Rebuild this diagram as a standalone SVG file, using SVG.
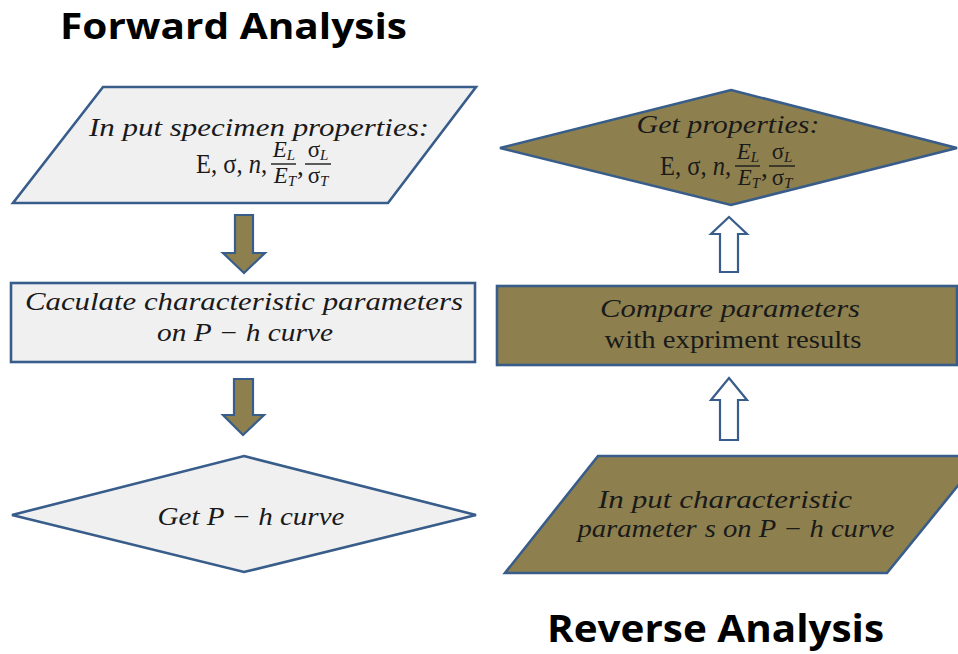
<svg xmlns="http://www.w3.org/2000/svg" width="958" height="654" viewBox="0 0 958 654">
<style>
.light{fill:#f0f0f1;stroke:#385d8a;stroke-width:2.6}
.olive{fill:#8d804e;stroke:#385d8a;stroke-width:2.6}
.arr-f{fill:#8d804e;stroke:#385d8a;stroke-width:2.2;stroke-linejoin:miter}
.arr-h{fill:#ffffff;stroke:#385d8a;stroke-width:2.2;stroke-linejoin:miter}
.title{font-family:"Open Sans","Liberation Sans",sans-serif;font-weight:bold;fill:#000}
.it{font-family:"Liberation Serif","DejaVu Serif",serif;font-style:italic;font-size:25px;fill:#1a1a1a}
.rm{font-family:"Liberation Serif","DejaVu Serif",serif;font-style:normal;font-size:25px;fill:#1a1a1a}
.m{font-family:"Liberation Serif","DejaVu Serif",serif;font-size:27px;fill:#1a1a1a}
.mf{font-family:"Liberation Serif","DejaVu Serif",serif;font-size:23px;fill:#1a1a1a}
.i{font-style:italic}
.bar{stroke:#1a1a1a;stroke-width:1.4}
</style>
<defs>
<g id="formula">
<text class="m" x="0" y="0" textLength="71" lengthAdjust="spacingAndGlyphs"><tspan>E</tspan><tspan>, σ, </tspan><tspan class="i">n</tspan><tspan>,</tspan></text>
<text class="mf" x="88" y="-16" text-anchor="middle"><tspan class="i">E</tspan><tspan class="i" font-size="15" dy="3">L</tspan></text>
<line class="bar" x1="75" y1="-9" x2="100" y2="-9"/>
<text class="mf" x="89" y="10" text-anchor="middle"><tspan class="i">E</tspan><tspan class="i" font-size="15" dy="3">T</tspan></text>
<text class="m" x="101" y="2">,</text>
<text class="mf" x="122" y="-16" text-anchor="middle"><tspan>σ</tspan><tspan class="i" font-size="15" dy="3">L</tspan></text>
<line class="bar" x1="109" y1="-9" x2="135" y2="-9"/>
<text class="mf" x="122" y="10" text-anchor="middle"><tspan>σ</tspan><tspan class="i" font-size="15" dy="3">T</tspan></text>
</g>
</defs>

<text class="title" x="60" y="39" font-size="35" textLength="347" lengthAdjust="spacingAndGlyphs">Forward Analysis</text>
<text class="title" x="547" y="642" font-size="37" textLength="337" lengthAdjust="spacingAndGlyphs">Reverse Analysis</text>

<g id="connectors">
<polygon class="arr-f" points="235,215 253,215 253,253 265,253 244,273 223,253 235,253"/>
<polygon class="arr-f" points="234,379 253,379 253,415 264,415 243,435 223,415 234,415"/>
<polygon class="arr-h" points="729,217 747,234 738,234 738,272 720,272 720,234 711,234"/>
<polygon class="arr-h" points="729,378 747,400 738,400 738,440 720,440 720,400 711,400"/>
</g>

<g id="input-specimen">
<polygon class="light" points="103,87 476,87 388,203 13,203"/>
<text class="it" x="259" y="136" text-anchor="middle" textLength="340" lengthAdjust="spacingAndGlyphs">In put specimen properties:</text>
<use href="#formula" x="196" y="173"/>
</g>

<g id="calculate">
<rect class="light" x="11" y="283" width="464" height="79"/>
<text class="it" x="244" y="310" text-anchor="middle" textLength="438" lengthAdjust="spacingAndGlyphs">Caculate characteristic parameters</text>
<text class="it" x="245" y="341" text-anchor="middle" textLength="176" lengthAdjust="spacingAndGlyphs">on P − h curve</text>
</g>

<g id="get-curve">
<polygon class="light" points="244,456 476,515 244,572 12,515"/>
<text class="it" x="251" y="525" text-anchor="middle" textLength="187" lengthAdjust="spacingAndGlyphs">Get P − h curve</text>
</g>

<g id="input-characteristic">
<polygon class="olive" points="598,456 982,456 887,573 505,573"/>
<text class="it" x="725" y="508" text-anchor="middle" textLength="254" lengthAdjust="spacingAndGlyphs">In put characteristic</text>
<text class="it" x="736" y="537" text-anchor="middle" textLength="317" lengthAdjust="spacingAndGlyphs">parameter<tspan dx="7">s</tspan> on P − h curve</text>
</g>

<g id="compare">
<rect class="olive" x="497" y="286" width="460" height="79"/>
<text class="it" x="730" y="317" text-anchor="middle" textLength="260" lengthAdjust="spacingAndGlyphs">Compare parameters</text>
<text class="rm" x="733" y="348" text-anchor="middle" textLength="257" lengthAdjust="spacingAndGlyphs">with expriment results</text>
</g>

<g id="get-properties">
<polygon class="olive" points="731,90 957,148 731,205 500,148"/>
<text class="it" x="728" y="133" text-anchor="middle" textLength="183" lengthAdjust="spacingAndGlyphs">Get properties:</text>
<use href="#formula" x="660" y="175"/>
</g>
</svg>
